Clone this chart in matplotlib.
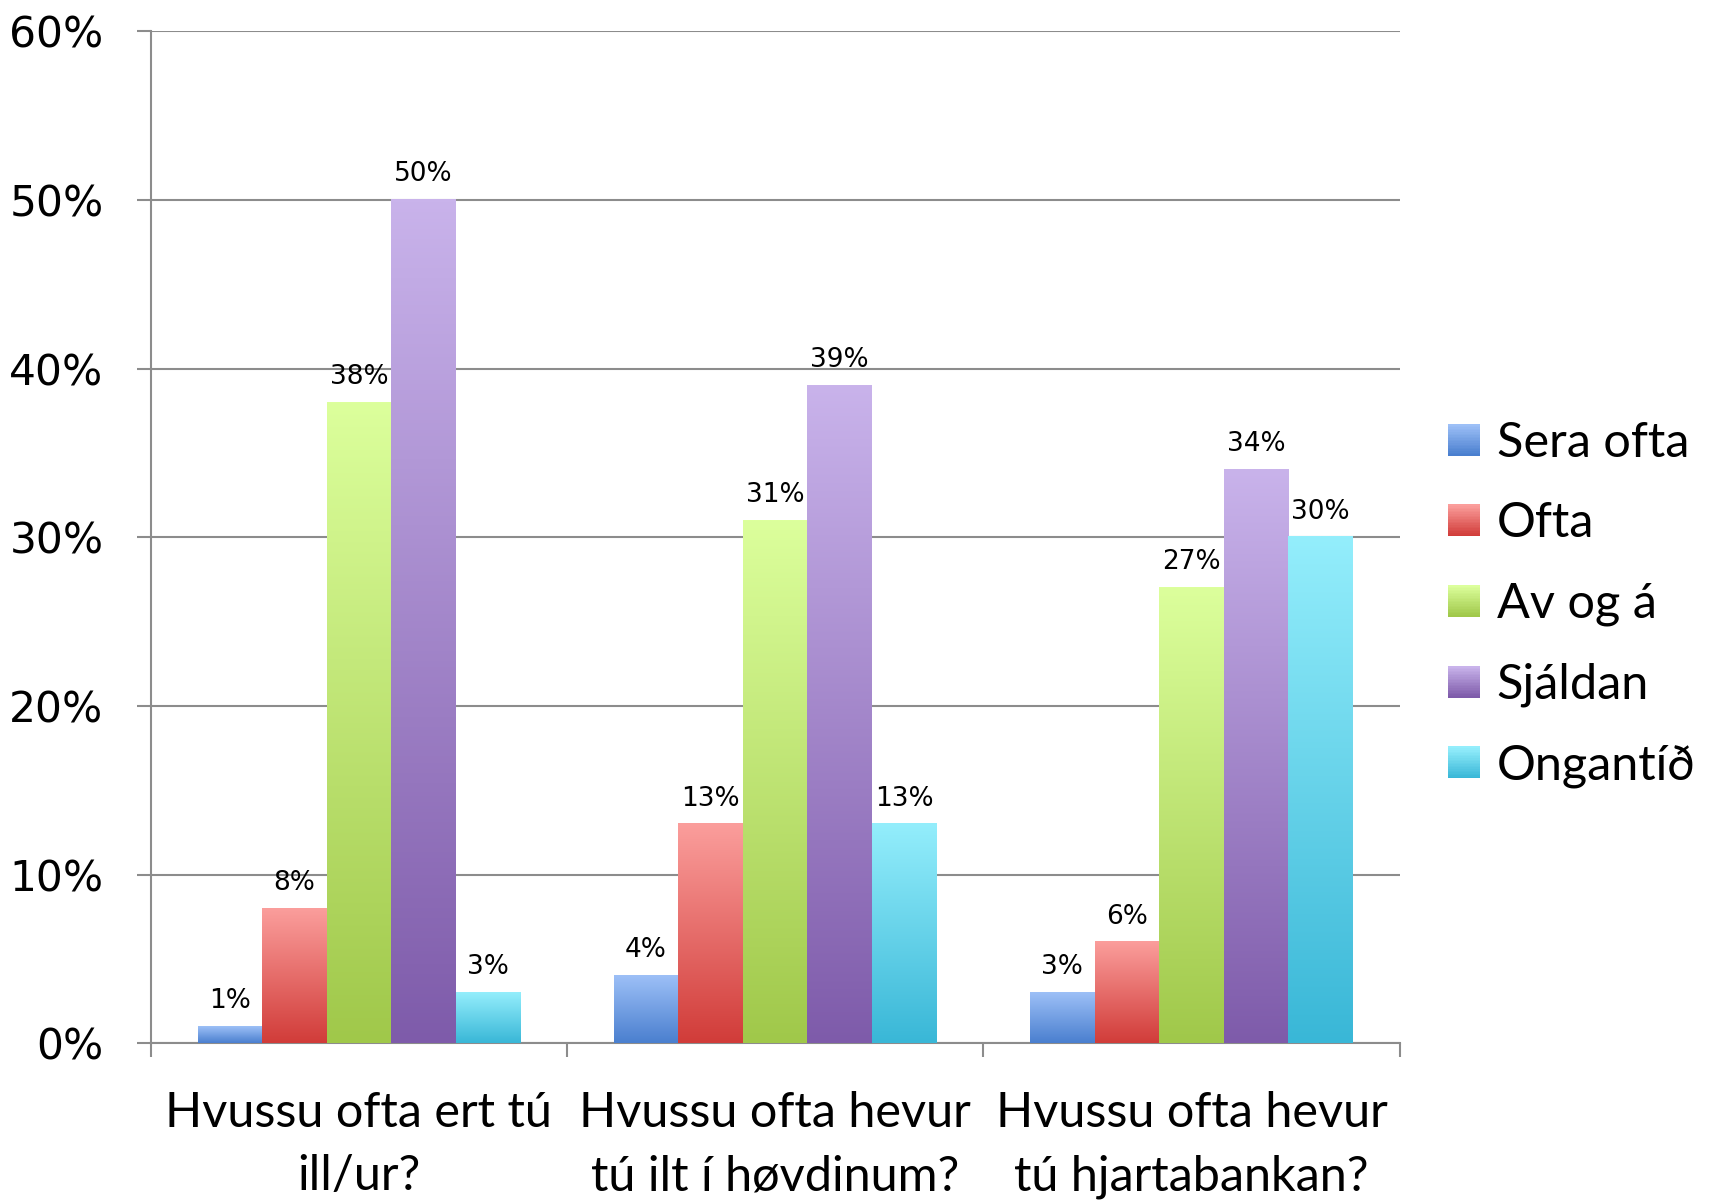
import numpy as np
import matplotlib
matplotlib.use("Agg")
import matplotlib.pyplot as plt
from matplotlib.colors import LinearSegmentedColormap
from matplotlib.patches import Patch
from matplotlib.legend_handler import HandlerPatch

# Data
categories = [
    "Hvussu ofta ert tú\nill/ur?",
    "Hvussu ofta hevur\ntú ilt í høvdinum?",
    "Hvussu ofta hevur\ntú hjartabankan?",
]
series = ["Sera ofta", "Ofta", "Av og á", "Sjáldan", "Ongantíð"]
sera_ofta = [1, 4, 3]
ofta = [8, 13, 6]
av_og_a = [38, 31, 27]
sjaldan = [50, 39, 34]
ongantid = [3, 13, 30]
values = [sera_ofta, ofta, av_og_a, sjaldan, ongantid]

# (top colour, bottom colour) for each series gradient
grad_colors = [
    ("#9DC0F7", "#4A7FCF"),
    ("#FB9E9C", "#D13C39"),
    ("#DCFF9C", "#A0C84A"),
    ("#C9B3EB", "#7E5BAA"),
    ("#94EEFC", "#39B7D7"),
]

GRID = "#8C8C8C"
LABEL_FONT = ["Lato", "DejaVu Sans"]

fig = plt.figure(figsize=(17.13, 12.02), dpi=100)
ax = fig.add_axes([0.088, 0.132, 0.729, 0.842])

x = np.arange(len(categories))
width = 0.155
offsets = (np.arange(len(series)) - 2) * width


def gradient_bar(ax, xc, h, c_top, c_bot):
    cmap = LinearSegmentedColormap.from_list("g", [c_bot, c_top])
    grad = np.linspace(0, 1, 256).reshape(-1, 1)
    ax.imshow(grad, cmap=cmap, origin="lower", aspect="auto",
              extent=(xc - width / 2, xc + width / 2, 0, h), zorder=3)


for i, vals in enumerate(values):
    c_top, c_bot = grad_colors[i]
    for j, v in enumerate(vals):
        xc = x[j] + offsets[i]
        gradient_bar(ax, xc, v, c_top, c_bot)
        ax.annotate(f"{v}%", (xc, v), xytext=(0, 9), textcoords="offset points",
                    ha="center", va="bottom", fontsize=19, color="black")

ax.set_xlim(-0.5, 2.5)
ax.set_ylim(0, 60)

# y axis
ax.set_yticks(np.arange(0, 61, 10))
ax.set_yticklabels([f"{v}%" for v in range(0, 61, 10)], fontsize=30.5)
ax.tick_params(axis="y", direction="out", length=10, width=1.5, color=GRID, pad=24)
ax.yaxis.grid(True, color=GRID, linewidth=1.5, zorder=0)
ax.set_axisbelow(True)

# x axis
ax.set_xticks(x)
ax.set_xticklabels(categories, fontsize=35, family=LABEL_FONT, linespacing=1.55)
ax.set_xticks([-0.5, 0.5, 1.5, 2.5], minor=True)
ax.tick_params(axis="x", which="major", length=0, pad=34)
ax.tick_params(axis="x", which="minor", direction="out", length=10, width=1.5, color=GRID)

for side in ("top", "right"):
    ax.spines[side].set_visible(False)
for side in ("left", "bottom"):
    ax.spines[side].set_color(GRID)
    ax.spines[side].set_linewidth(1.5)


class GradientHandler(HandlerPatch):
    def create_artists(self, legend, orig_handle, xdescent, ydescent,
                       width_, height_, fontsize, trans):
        c_top, c_bot = orig_handle.grad
        size = min(width_, height_)
        x0 = (width_ - size) / 2 - xdescent
        y0 = (height_ - size) / 2 - ydescent
        artists = []
        n = 20
        cols = LinearSegmentedColormap.from_list("g", [c_bot, c_top])
        for k in range(n):
            r = plt.Rectangle((x0, y0 + size * k / n), size, size / n + 0.3,
                              facecolor=cols(k / (n - 1)), edgecolor="none",
                              transform=trans)
            artists.append(r)
        return artists


handles = []
for i, name in enumerate(series):
    p = Patch(label=name)
    p.grad = grad_colors[i]
    handles.append(p)

fig.legend(handles=handles, loc="center left", bbox_to_anchor=(0.834, 0.497),
           frameon=False, prop={"family": LABEL_FONT, "size": 35},
           handler_map={Patch: GradientHandler()}, handlelength=0.65,
           handleheight=0.65, handletextpad=0.35, labelspacing=0.75, borderaxespad=0)

fig.savefig("out.png", dpi=100)
